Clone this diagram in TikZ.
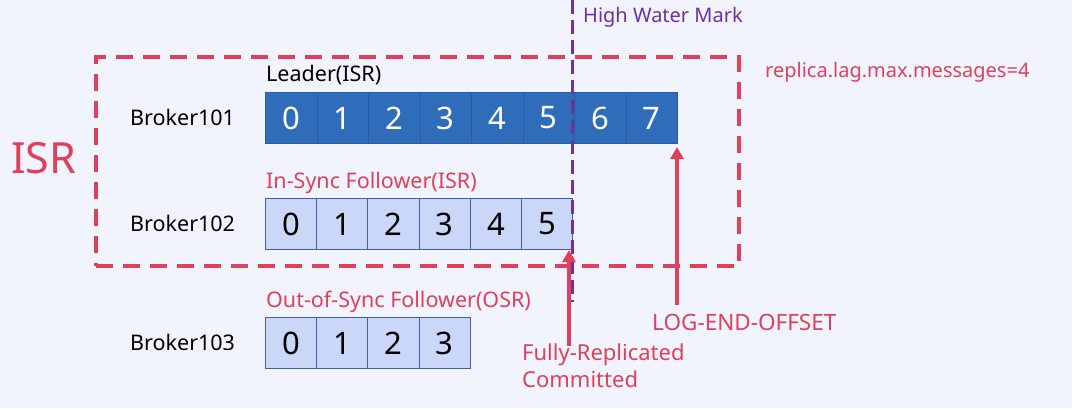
\documentclass[tikz,border=0pt]{standalone}
\usepackage{fontspec}
\setmainfont{Noto Sans}
\usetikzlibrary{arrows.meta}
\definecolor{bg}{HTML}{F2F4FD}
\definecolor{isrred}{HTML}{E0405A}
\definecolor{hwm}{HTML}{7030A0}
\definecolor{leadfill}{HTML}{2F6DBA}
\definecolor{leadline}{HTML}{2A5C9E}
\definecolor{follfill}{HTML}{CAD7F8}
\definecolor{follline}{HTML}{40609E}
\begin{document}
\begin{tikzpicture}[x=1pt,y=-1pt,
  leadcell/.style={draw=leadline,fill=leadfill,line width=1pt,minimum width=51.5pt,minimum height=51pt,inner sep=0pt,text=white,font=\fontsize{31}{31}\selectfont,anchor=north west},
  follcell/.style={draw=follline,fill=follfill,line width=1pt,minimum width=51.2pt,minimum height=51pt,inner sep=0pt,text=black,font=\fontsize{31}{31}\selectfont,anchor=north west},
  lbl/.style={font=\fontsize{21.5}{21.5}\selectfont,inner sep=0pt,anchor=west},
  redlbl/.style={lbl,text=isrred},
  redarrow/.style={draw=isrred,line width=3.5pt,-{Triangle[length=12pt,width=13pt]}}
]
\fill[bg] (0,0) rectangle (1072,408);
\useasboundingbox (0,0) rectangle (1072,408);
% ISR box
\node[draw=isrred,line width=4pt,dash pattern=on 17pt off 10pt,minimum width=643pt,minimum height=209pt,anchor=north west,inner sep=0pt] (isrbox) at (94,55) {};
\node[text=isrred,font=\fontsize{43}{43}\selectfont,inner sep=0pt,anchor=west] (isr) at (11,158) {ISR};
% leader cells
\foreach \i in {0,...,7}{
  \node[leadcell] (l\i) at (265+51.5*\i,92) {\i};
}
\foreach \i in {0,...,5}{
  \node[follcell] (f\i) at (265+51.2*\i,198) {\i};
}
\foreach \i in {0,...,3}{
  \node[follcell] (o\i) at (265+51.2*\i,317) {\i};
}
\node[lbl] (b1) at (130,117) {Broker101};
\node[lbl] (b2) at (130,223) {Broker102};
\node[lbl] (b3) at (130,342) {Broker103};
\node[lbl] (leader) at (266,75) {Leader(ISR)};
\node[redlbl] (insync) at (266,183) {In-Sync Follower(ISR)};
\node[redlbl] (outsync) at (266,302) {Out-of-Sync Follower(OSR)};
\node[redlbl,font=\fontsize{20}{20}\selectfont] (lag) at (765,72) {replica.lag.max.messages=4};
% HWM
\coordinate (hwtop) at (572,0);
\coordinate (hwbot) at (572,302);
\draw[hwm,line width=3pt,dash pattern=on 14pt off 6pt] (hwtop) -- (hwbot);
\node[lbl,text=hwm,font=\fontsize{20}{20}\selectfont] (hwmlbl) at (583,17) {High Water Mark};
% arrows
\node[redlbl,align=left,anchor=north west,font=\fontsize{22}{27}\selectfont] (fully) at (522,344) {Fully-Replicated\\Committed};
\coordinate (fullytop) at (569,250);
\draw[redarrow] (569,346) -- (fullytop);
\node[redlbl,font=\fontsize{22.5}{22.5}\selectfont] (leo) at (652,322) {LOG-END-OFFSET};
\coordinate (leotop) at (677,147);
\draw[redarrow] (677,305) -- (leotop);
\end{tikzpicture}
\end{document}
